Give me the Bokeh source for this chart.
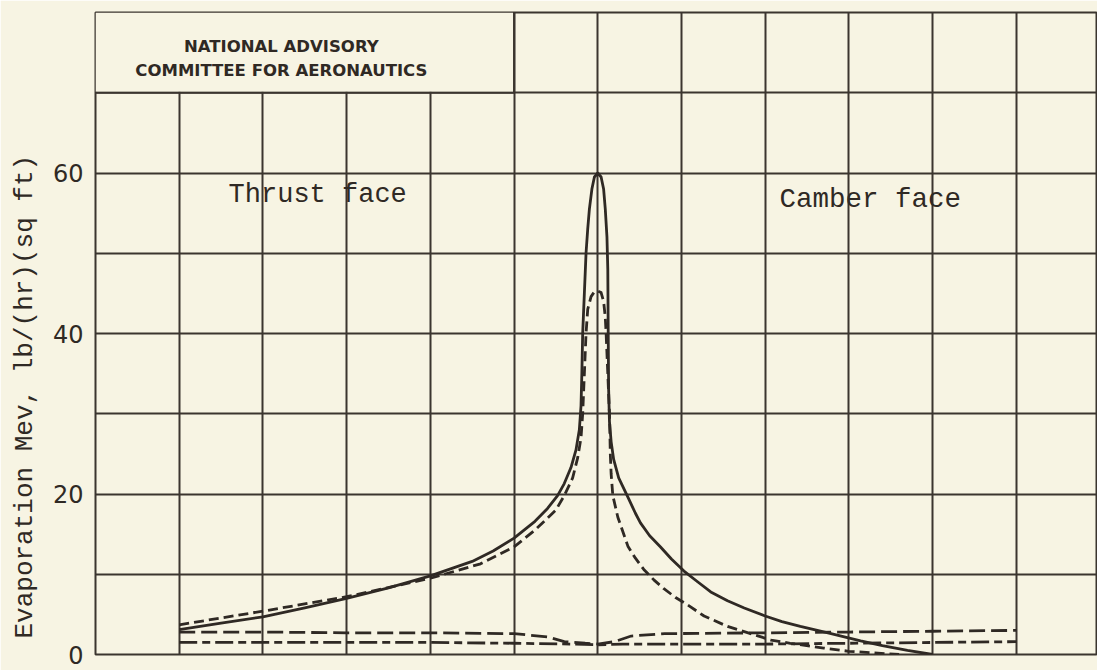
from bokeh.plotting import figure
from bokeh.models import FixedTicker, Title
from bokeh.core.properties import value
from bokeh.embed import file_html
from bokeh.resources import INLINE

# ---- data (x in grid units along the blade section, 0 = leading edge) ----
solid_x = [-5, -4.5, -4, -3.5, -3, -2.5, -2, -1.5, -1.25, -1.0, -0.75, -0.6, -0.48, -0.4, -0.32,
           -0.26, -0.22, -0.2, -0.19, -0.18, -0.16, -0.14, -0.12, -0.1, -0.07, -0.04, 0.0,
           0.04, 0.07, 0.09, 0.11, 0.12, 0.125, 0.13, 0.14, 0.16, 0.19, 0.25, 0.36, 0.45, 0.51,
           0.62, 0.75, 0.88, 1.03, 1.2, 1.35, 1.55, 1.75, 2.0, 2.2, 2.42, 2.75, 3.14, 3.4, 3.7, 4.0]
solid_y = [3.1, 3.9, 4.7, 5.8, 7.0, 8.3, 9.8, 11.6, 12.9, 14.5, 16.6, 18.2, 19.8, 21.3, 23.3,
           25.5, 28.0, 31.0, 35.0, 40.0, 45.0, 50.0, 53.0, 55.5, 58.0, 59.5, 60.0,
           59.5, 58.0, 55.5, 52.0, 48.0, 40.0, 33.0, 29.0, 26.5, 24.3, 22.0, 19.6, 17.6, 16.4,
           14.8, 13.4, 11.9, 10.4, 9.0, 7.8, 6.7, 5.8, 4.8, 4.1, 3.5, 2.7, 1.7, 1.1, 0.5, 0.0]

dash_x = [-5, -4, -3, -2, -1.4, -1.0, -0.75, -0.5, -0.4, -0.3, -0.24, -0.2, -0.18, -0.16, -0.14,
          -0.12, -0.08, -0.04, 0.0, 0.04, 0.07, 0.09, 0.1, 0.12, 0.14, 0.15, 0.16, 0.18, 0.24,
          0.36, 0.45, 0.55, 0.67, 0.79, 0.93, 1.07, 1.27, 1.55, 1.86, 2.07, 2.3, 2.7, 3.0, 3.6]
dash_y = [3.7, 5.4, 7.2, 9.5, 11.3, 13.4, 15.5, 18.0, 19.8, 22.0, 24.5, 27.0, 30.0, 35.0, 40.0,
          43.0, 44.6, 45.2, 45.3, 45.1, 44.0, 42.0, 40.0, 35.0, 30.0, 25.0, 22.5, 19.8, 17.1,
          13.5, 12.0, 10.6, 9.3, 8.2, 7.1, 6.2, 4.8, 3.5, 2.5, 1.8, 1.4, 0.8, 0.4, 0.0]

upper_x = [-5, -4, -3, -2, -1, -0.6, -0.4, -0.15, 0.0, 0.2, 0.4, 0.8, 2, 3, 4, 5]
upper_y = [2.8, 2.8, 2.7, 2.7, 2.6, 2.2, 1.6, 1.4, 1.3, 1.6, 2.3, 2.6, 2.7, 2.8, 2.9, 3.0]

lower_x = [-5, -4, -3, -2, -1, -0.3, 0.0, 0.3, 1, 2, 3, 4, 5]
lower_y = [1.5, 1.5, 1.5, 1.5, 1.4, 1.3, 1.2, 1.3, 1.3, 1.3, 1.4, 1.5, 1.6]

y_tick_values = [0, 20, 40, 60]
y_grid_values = [0, 10, 20, 30, 40, 50, 60, 70, 80]
x_grid_values = [-6, -5, -4, -3, -2, -1, 0, 1, 2, 3, 4, 5, 6]

y_label_text = "Evaporation Mev, lb/(hr)(sq ft)"
left_label = "Thrust face"
right_label = "Camber face"
naca_lines = ["NATIONAL ADVISORY", "COMMITTEE FOR AERONAUTICS"]

# ---- styling ----
PAPER = "#f7f4e3"
INK = "#2f2924"
GRIDC = "#3b352f"

W, H = 1097, 670
p = figure(width=W, height=H, output_backend="svg", toolbar_location=None,
           x_range=(-6, 5.97), y_range=(0, 80),
           min_border_left=95, min_border_right=0, min_border_top=12, min_border_bottom=16)
p.background_fill_color = PAPER
p.border_fill_color = PAPER
p.outline_line_color = GRIDC
p.outline_line_width = 2

p.xaxis.visible = False
p.yaxis.ticker = FixedTicker(ticks=y_tick_values)
p.yaxis.major_tick_line_color = None
p.yaxis.minor_tick_line_color = None
p.yaxis.axis_line_color = None
p.yaxis.major_label_standoff = 6
p.yaxis.major_label_text_font = "DejaVu Sans"
p.yaxis.major_label_text_font_size = "24px"
p.yaxis.major_label_text_color = INK

p.xgrid.ticker = FixedTicker(ticks=x_grid_values)
p.ygrid.ticker = FixedTicker(ticks=y_grid_values)
for g in (p.xgrid, p.ygrid):
    g.grid_line_color = GRIDC
    g.grid_line_width = 2
    g.grid_line_alpha = 1.0

# title box in the top-left corner (grid blanked out)
box_right = -1
p.quad(left=[-6], right=[box_right - 0.012], bottom=[70.12], top=[80], fill_color=PAPER, line_color=None)
p.segment(x0=[-6], y0=[70], x1=[box_right], y1=[70], line_color=GRIDC, line_width=2)
p.segment(x0=[box_right], y0=[70], x1=[box_right], y1=[80], line_color=GRIDC, line_width=2)

p.text(x=[-3.78, -3.78], y=[75.8, 72.8], text=naca_lines, text_font=value("DejaVu Sans"),
       text_font_size="16.5px", text_font_style="bold", text_align="center",
       text_baseline="middle", text_color=INK)

# curves
p.line(solid_x, solid_y, line_color=INK, line_width=2.8, line_join="round")
p.line(dash_x, dash_y, line_color=INK, line_width=2.8, line_dash="10 5", line_join="round")
p.line(upper_x, upper_y, line_color=INK, line_width=2.8, line_dash="16 6")
p.line(lower_x, lower_y, line_color=INK, line_width=2.8, line_dash="18 5 8 5")

# face labels
p.text(x=[-4.41], y=[57.2], text=[left_label], text_font=value("Liberation Mono"),
       text_font_size="27px", text_align="left", text_baseline="middle", text_color=INK)
p.text(x=[2.17], y=[56.7], text=[right_label], text_font=value("Liberation Mono"),
       text_font_size="27.5px", text_align="left", text_baseline="middle", text_color=INK)

# y-axis title, as a vertical title in the left panel
ytitle = Title(text=y_label_text, align="left", offset=16, standoff=17, vertical_align="middle",
               text_font="Liberation Mono", text_font_size="26px",
               text_font_style="normal", text_color=INK)
p.add_layout(ytitle, "left")

open("out.html", "w").write(file_html(p, INLINE))
